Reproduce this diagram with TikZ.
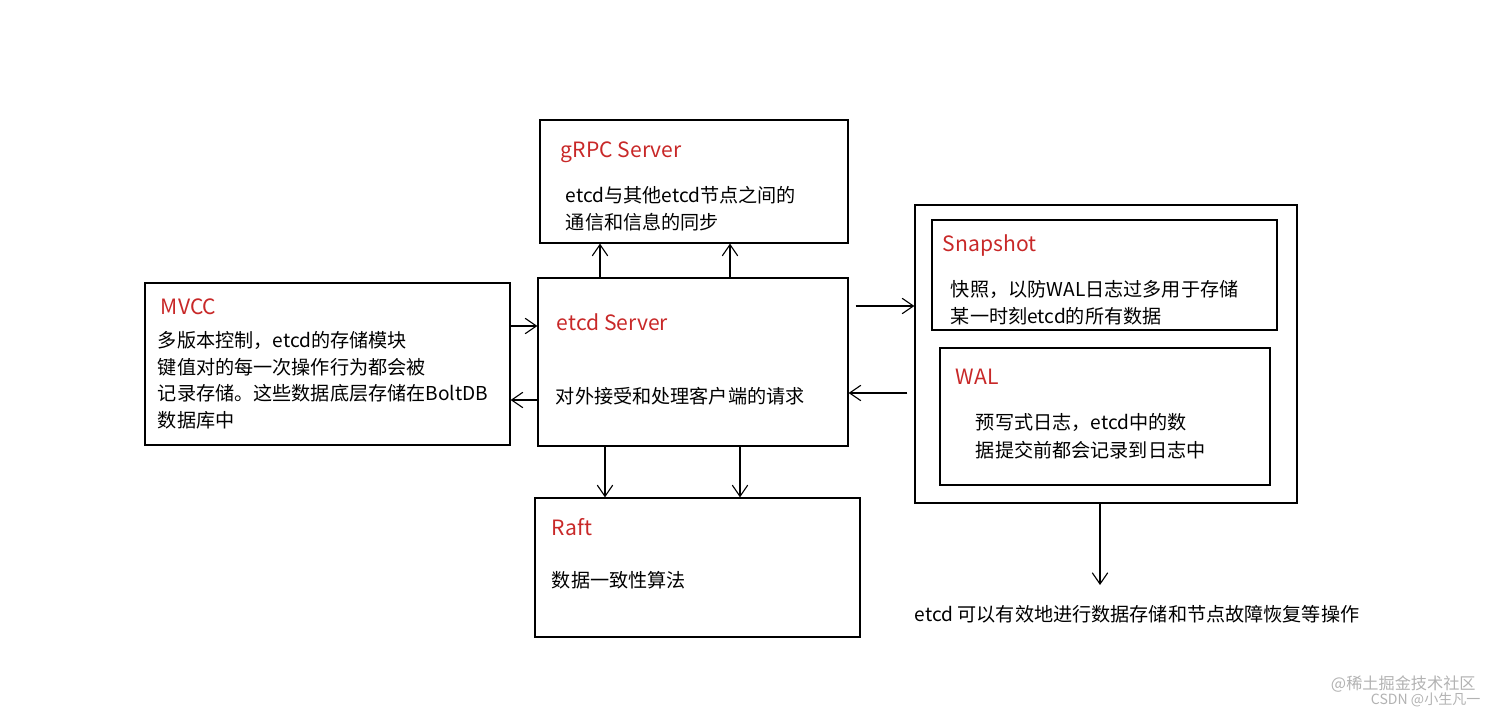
\documentclass[tikz,border=0pt]{standalone}
\usepackage{fontspec}
\setmainfont{Noto Sans CJK SC}
\usetikzlibrary{arrows.meta, positioning, calc}

\definecolor{titlered}{RGB}{200,40,40}
\tikzset{
  box/.style={draw, line width=0.9pt, inner sep=0pt},
  ttl/.style={anchor=west, text=titlered, font=\fontsize{15pt}{17pt}\selectfont},
  txt/.style={anchor=west, font=\fontsize{13.6pt}{16pt}\selectfont},
  arr/.style={-{Straight Barb[length=8pt,width=11pt]}, line width=0.8pt}
}

\begin{document}
\begin{tikzpicture}[x=0.025cm, y=-0.025cm]
    \useasboundingbox (0,0) rectangle (1512,714);
    % Boxes
    \node (grpc) [box, minimum width=308*0.025cm, minimum height=123*0.025cm] at (694,181.5) {};
    \node (srv) [box, minimum width=310*0.025cm, minimum height=168*0.025cm] at (693,362) {};
    \node (mvcc) [box, minimum width=365*0.025cm, minimum height=162*0.025cm] at (327.5,364) {};
    \node (raft) [box, minimum width=325*0.025cm, minimum height=139*0.025cm] at (697.5,567.5) {};
    \node (store) [box, minimum width=382*0.025cm, minimum height=298*0.025cm] at (1106,354) {};
    \node (snap) [box, minimum width=345*0.025cm, minimum height=110*0.025cm] at (1104.5,275) {};
    \node (wal) [box, minimum width=330*0.025cm, minimum height=137*0.025cm] at (1105,416.5) {};

    % Texts
    \node (grpct) [ttl] at (556,152) {gRPC Server};
    \node (grpc1) [txt] at (561,195) {etcd与其他etcd节点之间的};
    \node (grpc2) [txt] at (561,222) {通信和信息的同步};
    \node (srvt) [ttl] at (552,322) {etcd Server};
    \node (srv1) [txt] at (551,396) {对外接受和处理客户端的请求};
    \node (mvcct) [ttl] at (156,307) {MVCC};
    \node (mvcc1) [txt] at (153,340) {多版本控制，etcd的存储模块};
    \node (mvcc2) [txt] at (153,367) {键值对的每一次操作行为都会被};
    \node (mvcc3) [txt] at (153,393) {记录存储。这些数据底层存储在BoltDB};
    \node (mvcc4) [txt] at (153,420) {数据库中};
    \node (raftt) [ttl] at (547,527) {Raft};
    \node (raft1) [txt] at (547,580) {数据一致性算法};
    \node (snapt) [ttl] at (938,246) {Snapshot};
    \node (snap1) [txt] at (946,289) {快照，以防WAL日志过多用于存储};
    \node (snap2) [txt] at (946,316) {某一时刻etcd的所有数据};
    \node (walt) [ttl] at (951,377) {WAL};
    \node (wal1) [txt] at (971,422) {预写式日志，etcd中的数};
    \node (wal2) [txt] at (971,450) {据提交前都会记录到日志中};
    \node (res) [txt, anchor=north west] at (910,600) {etcd 可以有效地进行数据存储和节点故障恢复等操作};
    \node (wm1) [txt, text=gray!60, font=\fontsize{11.5pt}{13pt}\selectfont] at (1326,684) {@稀土掘金技术社区};
    \node (wm2) [txt, text=gray!60, font=\fontsize{10pt}{12pt}\selectfont] at (1366,700) {CSDN @小生凡一};

    % Arrow positions
    \coordinate (a1) at (600,0);
    \coordinate (a2) at (730,0);
    \coordinate (b1) at (605,0);
    \coordinate (b2) at (740,0);
    \coordinate (c1) at (0,326);
    \coordinate (c2) at (0,400);
    \coordinate (d1) at (0,306);
    \coordinate (d2) at (0,393);
    \coordinate (e1) at (1100,0);
    \coordinate (resend) at (1100,585);

    % Arrows
    \draw[arr] (srv.north -| a1) -- (grpc.south -| a1);
    \draw[arr] (srv.north -| a2) -- (grpc.south -| a2);
    \draw[arr] (srv.south -| b1) -- (raft.north -| b1);
    \draw[arr] (srv.south -| b2) -- (raft.north -| b2);
    \draw[arr] (mvcc.east |- c1) -- (srv.west |- c1);
    \draw[arr] (srv.west |- c2) -- (mvcc.east |- c2);
    \draw[arr] ([xshift=7*0.025cm]srv.east |- d1) -- (store.west |- d1);
    \draw[arr] ([xshift=-7*0.025cm]store.west |- d2) -- (srv.east |- d2);
    \draw[arr] (store.south -| e1) -- (resend);
\end{tikzpicture}
\end{document}
